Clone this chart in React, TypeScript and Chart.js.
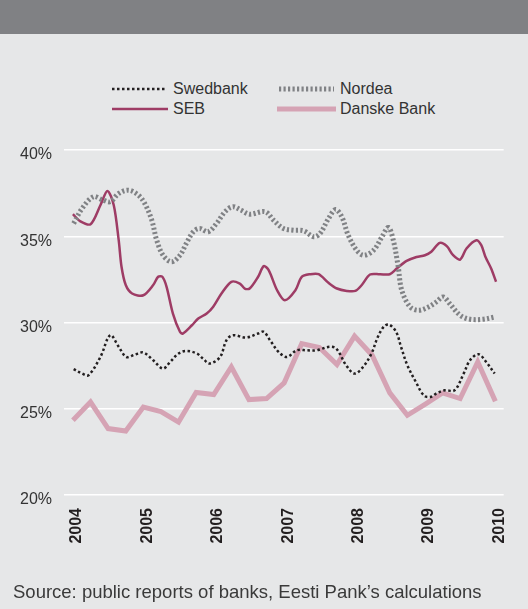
import React, { useEffect, useRef } from "react";
import { Chart, registerables } from "chart.js";

Chart.register(...registerables);

const yearTicks = [2004, 2005, 2006, 2007, 2008, 2009, 2010];
const percentTicks = [20, 25, 30, 35, 40];

const swedbankDates = [2004.01, 2004.13, 2004.22, 2004.39, 2004.53, 2004.65, 2004.76, 2004.88, 2005.0, 2005.14, 2005.28, 2005.38, 2005.5, 2005.61, 2005.76, 2005.85, 2005.94, 2006.09, 2006.18, 2006.27, 2006.46, 2006.63, 2006.71, 2006.8, 2006.92, 2007.04, 2007.18, 2007.32, 2007.46, 2007.64, 2007.74, 2007.88, 2008.0, 2008.12, 2008.24, 2008.33, 2008.42, 2008.49, 2008.59, 2008.66, 2008.75, 2008.87, 2008.99, 2009.09, 2009.16, 2009.28, 2009.42, 2009.55, 2009.64, 2009.76, 2009.87, 2009.99];
const swedbankValues = [27.3, 27.04, 26.94, 28.0, 29.26, 28.59, 28.0, 28.14, 28.26, 27.81, 27.33, 27.71, 28.2, 28.35, 28.2, 27.9, 27.62, 28.0, 28.97, 29.26, 29.13, 29.36, 29.46, 28.97, 28.3, 28.0, 28.39, 28.39, 28.39, 28.59, 28.49, 27.52, 27.04, 27.42, 28.2, 29.16, 29.78, 29.88, 29.46, 28.59, 27.52, 26.56, 25.75, 25.7, 25.88, 26.07, 26.07, 27.04, 27.81, 28.16, 27.71, 27.04];

const nordeaDates = [2004.01, 2004.13, 2004.29, 2004.41, 2004.53, 2004.65, 2004.79, 2004.93, 2005.02, 2005.12, 2005.19, 2005.28, 2005.4, 2005.52, 2005.61, 2005.71, 2005.8, 2005.92, 2006.04, 2006.16, 2006.27, 2006.39, 2006.51, 2006.73, 2006.85, 2006.99, 2007.13, 2007.28, 2007.42, 2007.51, 2007.63, 2007.73, 2007.82, 2007.91, 2008.03, 2008.13, 2008.27, 2008.39, 2008.48, 2008.55, 2008.62, 2008.67, 2008.79, 2008.91, 2009.05, 2009.16, 2009.26, 2009.35, 2009.5, 2009.64, 2009.83, 2009.99];
const nordeaValues = [35.74, 36.61, 37.29, 37.13, 37.0, 37.48, 37.67, 37.38, 36.9, 35.93, 34.77, 33.9, 33.52, 33.9, 34.58, 35.26, 35.45, 35.26, 35.74, 36.42, 36.71, 36.51, 36.28, 36.42, 35.93, 35.45, 35.35, 35.31, 34.97, 35.16, 36.03, 36.55, 36.12, 35.06, 34.19, 33.9, 34.19, 34.97, 35.51, 34.77, 33.23, 31.87, 30.9, 30.71, 30.9, 31.19, 31.48, 31.1, 30.42, 30.19, 30.19, 30.32];

const sebDates = [2004.0, 2004.1, 2004.25, 2004.39, 2004.49, 2004.58, 2004.65, 2004.69, 2004.75, 2004.84, 2005.0, 2005.14, 2005.21, 2005.27, 2005.33, 2005.42, 2005.52, 2005.56, 2005.69, 2005.78, 2005.9, 2005.99, 2006.11, 2006.25, 2006.37, 2006.44, 2006.51, 2006.63, 2006.71, 2006.78, 2006.9, 2007.01, 2007.16, 2007.25, 2007.37, 2007.49, 2007.63, 2007.75, 2007.89, 2008.01, 2008.1, 2008.22, 2008.36, 2008.5, 2008.6, 2008.74, 2008.88, 2009.0, 2009.09, 2009.21, 2009.31, 2009.4, 2009.5, 2009.59, 2009.73, 2009.8, 2009.86, 2009.94, 2010.01];
const sebValues = [36.28, 35.88, 35.7, 36.8, 37.63, 36.8, 34.77, 33.23, 32.17, 31.68, 31.58, 32.17, 32.65, 32.65, 32.07, 30.52, 29.46, 29.36, 29.84, 30.23, 30.52, 30.9, 31.68, 32.36, 32.26, 31.97, 31.97, 32.65, 33.27, 33.04, 31.87, 31.29, 31.87, 32.65, 32.8, 32.8, 32.3, 31.97, 31.83, 31.83, 32.16, 32.78, 32.8, 32.8, 33.13, 33.57, 33.8, 33.9, 34.1, 34.62, 34.43, 33.9, 33.65, 34.29, 34.77, 34.48, 33.8, 33.13, 32.36];

const danskeDates = [2004.0, 2004.25, 2004.5, 2004.75, 2005.0, 2005.25, 2005.5, 2005.75, 2006.0, 2006.25, 2006.5, 2006.75, 2007.0, 2007.25, 2007.5, 2007.75, 2008.0, 2008.25, 2008.5, 2008.75, 2009.0, 2009.25, 2009.5, 2009.75, 2010.0];
const danskeValues = [24.33, 25.39, 23.85, 23.71, 25.1, 24.84, 24.23, 25.94, 25.82, 27.42, 25.53, 25.59, 26.5, 28.78, 28.55, 27.56, 29.21, 28.1, 25.92, 24.62, 25.26, 25.92, 25.59, 27.71, 25.44];

const toPoints = (xs: number[], ys: number[]) => xs.map((x, i) => ({ x, y: ys[i] }));

const FONT = "'Liberation Sans', Arial, Helvetica, sans-serif";

const COLORS = {
  swedbank: "#231f20",
  nordea: "#808285",
  seb: "#9e3c65",
  danske: "#d5a3b4",
};

function LegendItem({ x, y, kind }: { x: number; y: number; kind: string }) {
  let line: React.ReactNode = null;
  if (kind === "swedbank") {
    line = <line x1={0} y1={5} x2={55} y2={5} stroke={COLORS.swedbank} strokeWidth={2.5} strokeDasharray="2.5 2.5" />;
  } else if (kind === "nordea") {
    line = <line x1={0} y1={5} x2={55} y2={5} stroke={COLORS.nordea} strokeWidth={5} strokeDasharray="2.2 2.3" />;
  } else if (kind === "seb") {
    line = <line x1={0} y1={5} x2={56} y2={5} stroke={COLORS.seb} strokeWidth={2.5} />;
  } else {
    line = <line x1={0} y1={5} x2={59} y2={5} stroke={COLORS.danske} strokeWidth={5} />;
  }
  return (
    <div style={{ position: "absolute", left: x, top: y - 10, height: 20, display: "flex", alignItems: "center" }}>
      <svg width={60} height={10} style={{ display: "block" }}>{line}</svg>
    </div>
  );
}

export default function App() {
  const canvasRef = useRef<HTMLCanvasElement | null>(null);

  useEffect(() => {
    const canvas = canvasRef.current;
    if (!canvas) return;
    const chart = new Chart(canvas, {
      type: "line",
      data: {
        datasets: [
          {
            label: "Swedbank",
            data: toPoints(swedbankDates, swedbankValues),
            borderColor: COLORS.swedbank,
            borderWidth: 2.5,
            borderDash: [2.5, 2.5],
            pointRadius: 0,
            tension: 0.35,
            fill: false,
          },
          {
            label: "Nordea",
            data: toPoints(nordeaDates, nordeaValues),
            borderColor: COLORS.nordea,
            borderWidth: 5,
            borderDash: [2.2, 2.3],
            pointRadius: 0,
            tension: 0.35,
            fill: false,
          },
          {
            label: "SEB",
            data: toPoints(sebDates, sebValues),
            borderColor: COLORS.seb,
            borderWidth: 2.5,
            pointRadius: 0,
            tension: 0.3,
            fill: false,
          },
          {
            label: "Danske Bank",
            data: toPoints(danskeDates, danskeValues),
            borderColor: COLORS.danske,
            borderWidth: 5,
            borderJoinStyle: "miter",
            pointRadius: 0,
            tension: 0,
            fill: false,
          },
        ],
      },
      options: {
        animation: false,
        responsive: false,
        maintainAspectRatio: false,
        layout: { padding: { left: 0, right: 23, top: 150, bottom: 0 } },
        plugins: {
          legend: { display: false },
          tooltip: { enabled: false },
        },
        scales: {
          x: {
            type: "linear",
            min: 2003.873,
            max: 2010.118,
            afterBuildTicks: (scale: any) => {
              scale.ticks = yearTicks.map((v) => ({ value: v }));
            },
            afterFit: (scale: any) => {
              scale.height = 114;
            },
            grid: { display: false, drawTicks: false },
            border: { display: false },
            ticks: {
              autoSkip: false,
              minRotation: 90,
              maxRotation: 90,
              padding: 13,
              labelOffset: 4,
              color: "#231f20",
              font: { family: FONT, size: 16, weight: "bold" },
              callback: (v: any) => String(v),
            },
          },
          y: {
            min: 20,
            max: 40,
            afterBuildTicks: (scale: any) => {
              scale.ticks = percentTicks.map((v) => ({ value: v }));
            },
            afterFit: (scale: any) => {
              scale.width = 64;
            },
            grid: { color: "#ffffff", lineWidth: 1.5, drawTicks: false },
            border: { display: false },
            ticks: {
              padding: 12,
              labelOffset: 5,
              color: "#333333",
              font: { family: FONT, size: 16 },
              callback: (v: any) => v + "%",
            },
          },
        },
      },
    } as any);
    return () => chart.destroy();
  }, []);

  const textStyle: React.CSSProperties = {
    position: "absolute",
    fontFamily: FONT,
    fontSize: 16,
    color: "#333333",
    whiteSpace: "nowrap",
    lineHeight: "20px",
  };

  return (
    <div style={{ position: "fixed", left: 0, top: 0, width: 528, height: 609, background: "#e6e7e8", overflow: "hidden" }}>
      <div style={{ position: "absolute", left: 0, top: 0, width: 528, height: 34, background: "#808184" }} />
      <LegendItem x={112} y={89} kind="swedbank" />
      <div style={{ ...textStyle, left: 173, top: 79 }}>Swedbank</div>
      <LegendItem x={279} y={89} kind="nordea" />
      <div style={{ ...textStyle, left: 340, top: 79 }}>Nordea</div>
      <LegendItem x={112} y={109} kind="seb" />
      <div style={{ ...textStyle, left: 173, top: 99 }}>SEB</div>
      <LegendItem x={277} y={109} kind="danske" />
      <div style={{ ...textStyle, left: 340, top: 99 }}>Danske Bank</div>
      <canvas ref={canvasRef} width={528} height={609} style={{ position: "absolute", left: 0, top: 0, width: 528, height: 609 }} />
      <div style={{ ...textStyle, left: 13, top: 581, fontSize: 18.5, lineHeight: "22px", color: "#3a3a3a" }}>Source: public reports of banks, Eesti Pank’s calculations</div>
    </div>
  );
}
